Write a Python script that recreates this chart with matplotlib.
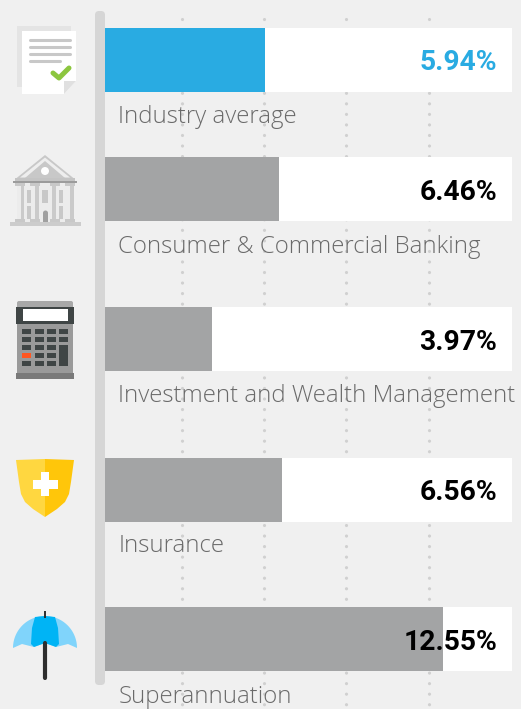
import numpy as np
import matplotlib
matplotlib.use('Agg')
import matplotlib.pyplot as plt
from matplotlib.patches import Rectangle, Polygon, Circle, FancyBboxPatch

labels = ['Industry average', 'Consumer & Commercial Banking',
          'Investment and Wealth Management', 'Insurance', 'Superannuation']
values = [5.94, 6.46, 3.97, 6.56, 12.55]
value_text = ['5.94%', '6.46%', '3.97%', '6.56%', '12.55%']
bar_tops = [28, 157, 307, 458, 607]
label_y = [117, 247, 396, 546, 697]
grid_vals = [2.86, 5.90, 8.95, 12.03]

BG = '#f0f0f0'
BLUE = '#29abe2'
GREY = '#a3a4a5'
PX = 26.93   # pixels per percent
X0 = 105

fig = plt.figure(figsize=(5.21, 7.09), dpi=100, facecolor=BG)
ax = fig.add_axes([0, 0, 1, 1])
ax.set_xlim(-X0 / PX, (521 - X0) / PX)
ax.set_ylim(709, 0)
ax.axis('off')

# dotted guides, about 10.5 px apart
for g in grid_vals:
    ax.plot([g, g], [18.5, 709], color='#d0d0d0', lw=2.3, ls=(0, (0.01, 3.29)),
            dash_capstyle='round', zorder=1)

# white track and bars
for i in range(len(values)):
    ax.barh(bar_tops[i] + 32, (512 - X0) / PX, height=64, color='white', zorder=2)
    ax.barh(bar_tops[i] + 32, values[i], height=64,
            color=BLUE if i == 0 else GREY, zorder=3)
    ax.text((497 - X0) / PX, bar_tops[i] + 35, value_text[i], ha='right', va='center',
            family='Roboto', weight='bold', fontsize=20.3, color=BLUE if i == 0 else 'black',
            zorder=5)
    ax.text((118.5 - X0) / PX, label_y[i], labels[i], ha='left', va='center',
            family='Open Sans', weight='light', fontsize=17.3, color='#6a6a6a', zorder=5)

# icons live in pixel space
ic = fig.add_axes([0, 0, 1, 1])
ic.set_xlim(0, 521)
ic.set_ylim(709, 0)
ic.axis('off')
ic.patch.set_alpha(0)


def rect(x0, y0, x1, y1, c):
    ic.add_patch(Rectangle((x0, y0), x1 - x0, y1 - y0, fc=c, ec='none'))


def poly(pts, c):
    ic.add_patch(Polygon(pts, closed=True, fc=c, ec='none'))


# spine
ic.add_patch(FancyBboxPatch((95 + 4, 11 + 4), 2, 666, boxstyle='round,pad=4',
                            fc='#d6d6d6', ec='none'))

# document
rect(17, 26, 71, 87, '#e4e4e4')
poly([(22, 31), (76, 31), (76, 81), (64, 94), (22, 94)], 'white')
poly([(64, 81), (76, 81), (64, 94)], '#e0e0e0')
for y, x1 in zip([40, 47, 54, 61], [70, 70, 70, 60]):
    ic.plot([30, x1], [y, y], color='#c8c8c8', lw=2.2, solid_capstyle='round')
ic.plot([53, 59, 69], [73, 78, 68], color='#8cc63f', lw=3.6,
        solid_capstyle='round', solid_joinstyle='round')

# bank
poly([(45, 155), (16, 178.5), (74, 178.5)], '#c8c8c8')
poly([(45, 157.5), (20, 177.5), (70, 177.5)], '#eeeeee')
poly([(45, 161), (25, 178), (65, 178)], '#c8c8c8')
ic.add_patch(Circle((45, 171), 4, fc='white', ec='none'))
rect(15, 178, 75, 181, '#c4c4c4')
rect(13, 181, 77, 183, '#9c9c9c')
rect(17, 183, 73, 222, '#ececec')
for x0, x1 in [(15, 25), (30, 40), (50, 60), (65, 75)]:
    rect(x0, 183, x1, 186, '#c8c8c8')
    rect(x0, 219, x1, 222, '#c8c8c8')
for x0, x1 in [(21, 24), (35, 39), (52, 56), (70, 74)]:
    rect(x0, 186, x1, 219, '#cacaca')
for x0, x1 in [(27, 31), (59, 63)]:
    rect(x0, 190, x1, 203, '#c8c8c8')
    rect(x0, 206, x1, 219, '#c8c8c8')
rect(42, 190, 48, 203, '#c8c8c8')
rect(43, 213, 48, 222, '#a0a0a0')
ic.add_patch(Circle((45.5, 213), 2.5, fc='#a0a0a0', ec='none'))
rect(10, 222, 81, 226, '#cccccc')

# calculator
ic.add_patch(FancyBboxPatch((19, 303), 52, 6, boxstyle='round,pad=2', fc='#a8a8a8', ec='none'))
rect(16, 307, 74, 324, '#3f4545')
rect(23, 309, 68, 321, 'white')
rect(17, 324, 73, 373, '#9a9a9a')
rect(16, 373, 74, 379, '#7a7a7a')
for r, y0 in enumerate([329, 337, 345, 353, 361]):
    for c, x0 in enumerate([22, 35, 47, 59]):
        if c == 3 and r >= 2:
            continue
        rect(x0, y0, x0 + 9, y0 + 5, '#ff5722' if (r == 3 and c == 0) else '#3f4545')
rect(59, 345, 68, 366, '#3f4545')

# shield
poly([(16, 460), (45, 459), (45, 517), (33, 509), (25, 502), (21, 494), (19, 482)], '#ffd740')
poly([(74, 460), (45, 459), (45, 517), (57, 509), (65, 502), (69, 494), (71, 482)], '#ffc60a')
rect(33, 480, 58, 489, 'white')
rect(41, 472, 49, 496, 'white')

# umbrella
ic.plot([45, 45], [611, 618], color='#2e2e2e', lw=1.4, solid_capstyle='butt')
th = np.linspace(np.pi, 0, 60)
dome = list(zip(45 + 32 * np.cos(th), 648 - 32 * np.sin(th)))
poly(dome + [(77, 648), (68, 644), (56, 647), (45, 643), (34, 647), (22, 644)], '#80d4fb')
poly([(31, 644), (32, 628), (35, 617), (45, 616), (55, 617), (58, 628), (59, 644),
      (56, 647), (45, 643), (34, 647)], '#00b4f5')
ic.plot([45, 45], [643, 678], color='#2e2e2e', lw=3.0, solid_capstyle='round')

fig.savefig('out.png', dpi=100, facecolor=BG)
